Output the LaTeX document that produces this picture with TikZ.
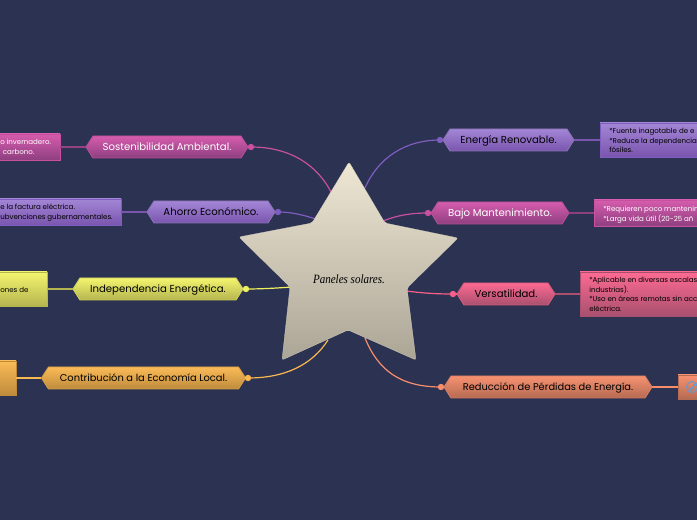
\documentclass[tikz,border=0pt]{standalone}
\usepackage{fontspec}
\setmainfont{Poppins}
\newfontfamily\starfont{Liberation Serif Italic}
\definecolor{bg}{HTML}{2B3252}
\definecolor{vioT}{HTML}{A386D6}\definecolor{vioB}{HTML}{7A55AE}\definecolor{vioL}{HTML}{7F5DBF}
\definecolor{magT}{HTML}{D65CAE}\definecolor{magB}{HTML}{8E3F80}\definecolor{magL}{HTML}{C9509F}
\definecolor{yelT}{HTML}{F4F56E}\definecolor{yelB}{HTML}{B5B550}\definecolor{yelL}{HTML}{EFF060}
\definecolor{oraT}{HTML}{FBBB57}\definecolor{oraB}{HTML}{BE8B3C}\definecolor{oraL}{HTML}{FAB850}
\definecolor{pnkT}{HTML}{FD6A92}\definecolor{pnkB}{HTML}{A9506F}\definecolor{pnkL}{HTML}{F8608A}
\definecolor{salT}{HTML}{F79271}\definecolor{salB}{HTML}{B56A52}\definecolor{salL}{HTML}{F88D6B}
\definecolor{starT}{HTML}{EFE7D4}\definecolor{starB}{HTML}{ABA596}
\definecolor{tick}{HTML}{5B9BD8}
\tikzset{
  x=0.75pt,y=-0.75pt,
  link/.style={line width=0.9pt},
  hexlabel/.style={font=\fontsize{7.6}{9}\selectfont,anchor=center,inner sep=0pt},
  note/.style={font=\fontsize{5.3}{7.2}\selectfont,align=left,anchor=north west,inner sep=0pt},
  leafbox/.style={rectangle,line width=0.7pt,inner sep=0pt,anchor=center},
}
% name, cx, cy, halfwidth, colour stem, text colour, label
\newcommand{\hexnode}[7]{%
  \path[draw=#5T!85!black,line width=0.7pt,top color=#5T,bottom color=#5B]
    (#2-#4,#3) -- (#2-#4+7,#3-11) -- (#2+#4-7,#3-11) -- (#2+#4,#3) -- (#2+#4-7,#3+11) -- (#2-#4+7,#3+11) -- cycle;
  \node[hexlabel,text=#6,minimum width={2*#4*0.75pt},minimum height=16.5pt] (#1) at (#2,#3) {\raisebox{-2.9pt}[0pt][0pt]{#7}};
}
% name, x1, y1, x2, y2, border, stem
\newcommand{\leafnode}[7]{%
  \node[leafbox,draw=#6,top color=#7T,bottom color=#7B,minimum width={(#4-#2)*0.75pt},minimum height={(#5-#3)*0.75pt}] (#1) at ({(#2+#4)/2},{(#3+#5)/2}) {};
}
\begin{document}
\begin{tikzpicture}
\useasboundingbox (0,0) rectangle (697,520);
\clip (0,0) rectangle (697,520);
\fill[bg] (0,0) rectangle (697,520);

% main nodes
\hexnode{SA}{167}{147}{81}{mag}{white}{Sostenibilidad Ambiental.}
\hexnode{AE}{211}{212}{64}{vio}{black}{Ahorro Económico.}
\hexnode{IE}{158}{289}{85}{yel}{black}{Independencia Energética.}
\hexnode{CE}{143.5}{378}{102}{ora}{black}{\fontsize{7.4}{9}\selectfont Contribución a la Economía Local.}
\hexnode{ER}{508.5}{140}{65.5}{vio}{black}{Energía Renovable.}
\hexnode{BM}{500}{213}{69}{mag}{white}{Bajo Mantenimiento.}
\hexnode{VE}{506}{294}{49}{pnk}{black}{Versatilidad.}
\hexnode{RP}{548}{387}{104}{sal}{black}{\fontsize{7.4}{9}\selectfont Reducción de Pérdidas de Energía.}

% dots
\coordinate (cSA) at (251,147);\coordinate (cAE) at (278,212);\coordinate (cIE) at (246,289);\coordinate (cCE) at (248,378);
\coordinate (cER) at (440,140);\coordinate (cBM) at (428,213);\coordinate (cVE) at (453,294);\coordinate (cRP) at (441,387);
% where the branches enter the star
\coordinate (sSA) at (332,194);\coordinate (sAE) at (316,219);\coordinate (sIE) at (292,287);\coordinate (sCE) at (328,340);
\coordinate (sER) at (365,188);\coordinate (sBM) at (383,221);\coordinate (sVE) at (406,291);\coordinate (sRP) at (365,338);
\draw[link,magL] (cSA) .. controls (290,147) and (318,165) .. (sSA);
\draw[link,vioL] (cAE) .. controls (292,212) and (303,215) .. (sAE);
\draw[link,yelL] (cIE) .. controls (262,289) and (278,288) .. (sIE);
\draw[link,oraL] (cCE) .. controls (285,378) and (312,365) .. (sCE);
\draw[link,vioL] (cER) .. controls (405,140) and (378,158) .. (sER);
\draw[link,magL] (cBM) .. controls (412,213) and (398,215) .. (sBM);
\draw[link,pnkL] (cVE) .. controls (435,294) and (422,293) .. (sVE);
\draw[link,salL] (cRP) .. controls (400,387) and (378,370) .. (sRP);
\foreach \p/\c in {cSA/magL,cAE/vioL,cIE/yelL,cCE/oraL,cER/vioL,cBM/magL,cVE/pnkL,cRP/salL}
  \fill[\c] (\p) circle (3.2);

% star
\path[top color=starT,bottom color=starB,draw=starT!60!starB,line width=0.2pt,line join=round,rounded corners=1.5pt]
  (349,162) -- (385,223) -- (458,238) -- (407,288) -- (416,360) -- (348,330) -- (282,360) -- (290,287) -- (239,237) -- (312,223) -- cycle;
\node[font=\starfont\fontsize{9.5}{11}\selectfont,text=black,inner sep=0pt] (root) at (349,279) {\scalebox{0.87}[1]{Paneles solares.}};

% leaf boxes
\leafnode{LSA}{-5}{134}{60}{160}{magL}{mag}
\node[note,text=white] (tSA) at (0,139) {o invernadero.\\\hspace*{2pt}carbono.};
\leafnode{LAE}{-5}{199}{121}{225}{vioL}{vio}
\node[note,text=black] (tAE) at (0,204) {e la factura eléctrica.\\ubvenciones gubernamentales.};
\leafnode{LIE}{-5}{272}{47}{306}{yelB}{yel}
\node[note,text=black] (tIE) at (0,287) {ones de};
\leafnode{LCE}{-5}{361}{16}{395}{oraB}{ora}
\leafnode{LER}{600}{123}{702}{157}{vioL}{vio}
\node[note,text=black] (tER) at (609,128) {*Fuente inagotable de e\\*Reduce la dependencia\\fósiles.};
\leafnode{LBM}{594}{200}{702}{226}{magL}{mag}
\node[note,text=white] (tBM) at (603,206) {*Requieren poco mantenin\\*Larga vida útil (20-25 añ};
\leafnode{LVE}{580}{272}{702}{316}{pnkB}{pnk}
\node[note,text=black] (tVE) at (589,277) {*Aplicable en diversas escalas\\industrias).\\*Uso en áreas remotas sin acc\\eléctrica.};
\leafnode{LRP}{678}{375}{702}{399}{salB}{sal}
\draw[line width=0.7pt,color=tick] (692,387) circle (5.5);
\draw[line width=0.9pt,color=tick] (689,387) -- (691,390) -- (695,384);

\draw[link,magB!90!magT] (LSA.east) -- (SA.west);
\draw[link,vioB] (LAE.east) -- (AE.west);
\draw[link,yelB] (LIE.east) -- (IE.west);
\draw[link,oraL] (LCE.east) -- (CE.west);
\draw[link,vioB] (ER.east) -- (LER.west);
\draw[link,magB] (BM.east) -- (LBM.west);
\draw[link,pnkB] (VE.east) -- (LVE.west);
\draw[link,salL] (RP.east) -- (LRP.west);
\draw[link,magL] (SA.east) -- (cSA);
\draw[link,vioL] (AE.east) -- (cAE);
\draw[link,yelL] (IE.east) -- (cIE);
\draw[link,oraL] (CE.east) -- (cCE);
\draw[link,vioL] (ER.west) -- (cER);
\draw[link,magL] (BM.west) -- (cBM);
\draw[link,pnkL] (VE.west) -- (cVE);
\draw[link,salL] (RP.west) -- (cRP);
\end{tikzpicture}
\end{document}
